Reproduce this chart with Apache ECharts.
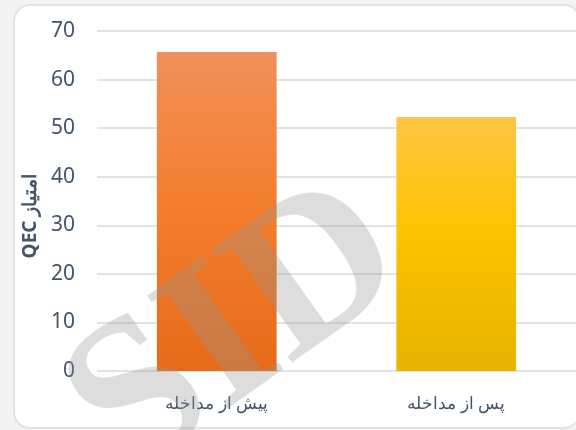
<!DOCTYPE html>
<html>
<head>
<meta charset="utf-8">
<script src="https://cdn.jsdelivr.net/npm/echarts@6/dist/echarts.min.js"></script>
<style>
  html, body { margin: 0; padding: 0; background: #f3f3f3; }
  #main { width: 576px; height: 430px; }
</style>
</head>
<body>
<div id="main"></div>
<script>
var categories = ['پیش از مداخله', 'پس از مداخله'];
var scores = [65.7, 52.3];
var yTicks = { min: 0, max: 70, interval: 10 };
var axisName = 'QEC امتیاز';

var barColors = [
    ['#f18f5a', '#f47f2f', '#e56b1a'],
    ['#fec643', '#fdc300', '#e5b300']
];

var chart = echarts.init(document.getElementById('main'));

function gradient(c) {
    return new echarts.graphic.LinearGradient(0, 0, 0, 1, [
        { offset: 0, color: c[0] },
        { offset: 0.45, color: c[1] },
        { offset: 1, color: c[2] }
    ]);
}

var option = {
    backgroundColor: '#f3f3f3',
    animation: false,
    graphic: [
        {
            type: 'rect',
            z: -10,
            shape: { x: 14, y: 5, width: 566, height: 423, r: 16 },
            style: { fill: '#ffffff', stroke: '#dfe3ea', lineWidth: 2 }
        },
        {
            // watermark
            type: 'text',
            z: 100,
            x: 238,
            y: 334,
            rotation: 0.62,
            style: {
                text: 'SID',
                font: 'bold 212px "Liberation Serif"',
                fill: 'rgba(150,150,150,0.32)',
                align: 'center',
                verticalAlign: 'middle'
            }
        }
    ],
    grid: { left: 97, right: -3, top: 31, bottom: 59 },
    xAxis: {
        type: 'category',
        data: categories,
        axisLine: { show: false },
        axisTick: { show: false },
        axisLabel: {
            color: '#44546a',
            fontSize: 17,
            fontFamily: 'Noto Sans',
            margin: 25
        }
    },
    yAxis: {
        type: 'value',
        min: yTicks.min,
        max: yTicks.max,
        interval: yTicks.interval,
        name: axisName,
        nameLocation: 'middle',
        nameGap: 52,
        nameRotate: 90,
        nameTextStyle: {
            color: '#44546a',
            fontSize: 19,
            fontWeight: 'bold',
            fontFamily: 'Noto Sans',
            padding: [0, 30, 0, 0]
        },
        axisLine: { show: false },
        axisTick: { show: false },
        axisLabel: {
            color: '#44546a',
            fontSize: 21,
            fontFamily: 'Noto Sans',
            margin: 22
        },
        splitLine: { lineStyle: { color: '#dfe3ea', width: 2 } }
    },
    series: [{
        type: 'bar',
        barWidth: '50%',
        data: scores.map(function(v, i) {
            return { value: v, itemStyle: { color: gradient(barColors[i]) } };
        })
    }]
};

chart.setOption(option);
</script>
</body>
</html>
